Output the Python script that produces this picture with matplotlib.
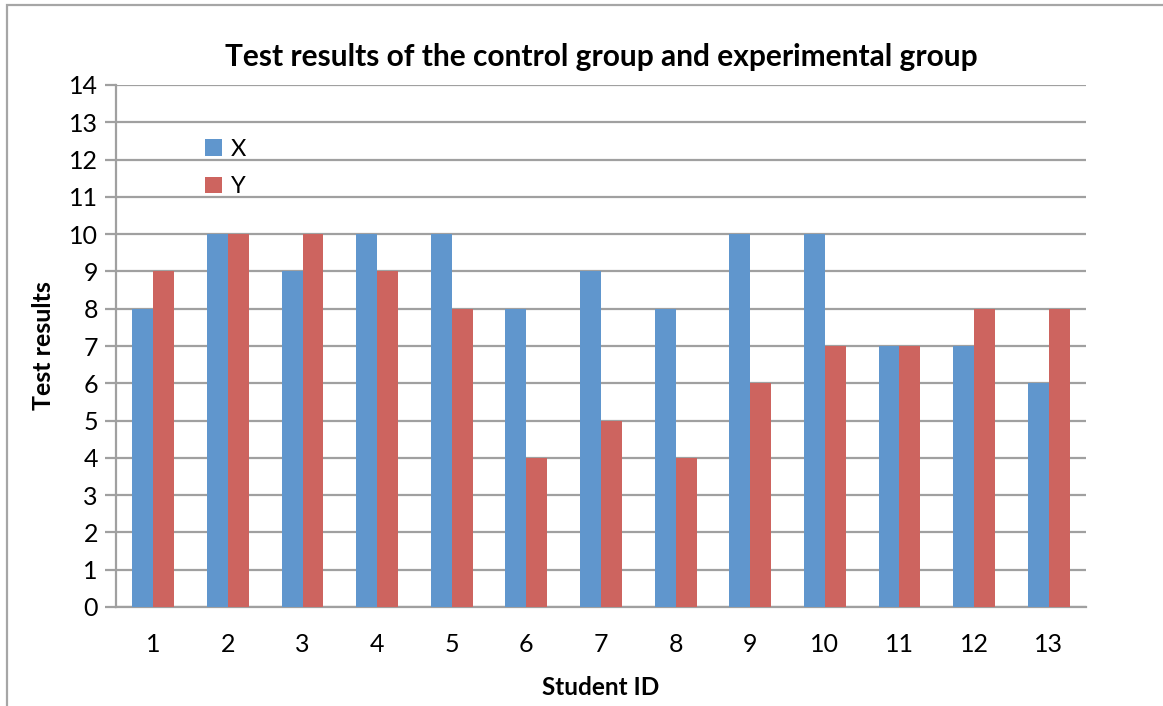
import matplotlib
matplotlib.use('Agg')
import matplotlib.pyplot as plt
import numpy as np
from matplotlib.patches import Rectangle

# veriler
student_ids = ['1', '2', '3', '4', '5', '6', '7', '8', '9', '10', '11', '12', '13']
x_scores = [8, 10, 9, 10, 10, 8, 9, 8, 10, 10, 7, 7, 6]
y_scores = [9, 10, 10, 9, 8, 4, 5, 4, 6, 7, 7, 8, 8]
y_ticks = list(range(0, 15))

blue = '#6096CD'
red = '#CD645F'
grid_gray = '#A0A0A0'

plt.rcParams['font.family'] = ['Lato', 'DejaVu Sans']

fig = plt.figure(figsize=(11.63, 7.06), dpi=100)
W, H = 1163, 706

# dış çerçeve (sağ ve alt kenar resmin dışında kalıyor)
fig.patches.append(Rectangle((7 / W, -0.1), 1.2, 1 - 5 / H + 0.1, transform=fig.transFigure,
                             fill=False, edgecolor='#A6A6A6', linewidth=1.6))

ax = fig.add_axes([116 / W, 1 - 607 / H, (1086 - 116) / W, (607 - 85) / H])

pos = np.arange(len(student_ids))
bw = 0.28
ax.bar(pos - bw / 2, x_scores, bw, color=blue, label='X', zorder=3)
ax.bar(pos + bw / 2, y_scores, bw, color=red, label='Y', zorder=3)

ax.set_xlim(-0.5, len(student_ids) - 0.5)
ax.set_ylim(0, 14)
ax.set_yticks(y_ticks)
ax.set_xticks(pos)
ax.set_xticklabels(student_ids)
ax.grid(axis='y', color=grid_gray, linewidth=1.6, zorder=0)

for s in ['top', 'right']:
    ax.spines[s].set_visible(False)
ax.spines['left'].set_color(grid_gray)
ax.spines['left'].set_linewidth(1.6)
ax.spines['bottom'].set_color(grid_gray)
ax.spines['bottom'].set_linewidth(1.6)

ax.tick_params(axis='y', length=8, width=1.6, color=grid_gray, labelsize=18, pad=5)
ax.tick_params(axis='x', length=0, labelsize=18, pad=19)

ax.set_title('Test results of the control group and experimental group',
             fontsize=21.5, fontweight='bold', pad=14)
ax.set_xlabel('Student ID', fontsize=17.5, fontweight='bold', labelpad=14)
ax.set_ylabel('Test results', fontsize=18, fontweight='bold', labelpad=10)

ax.legend(loc='upper left', bbox_to_anchor=(0.082, 0.915), frameon=False, fontsize=17,
          handlelength=0.7, handleheight=0.7, handletextpad=0.4, labelspacing=0.7,
          borderaxespad=0)

fig.savefig('out.png', dpi=100)
